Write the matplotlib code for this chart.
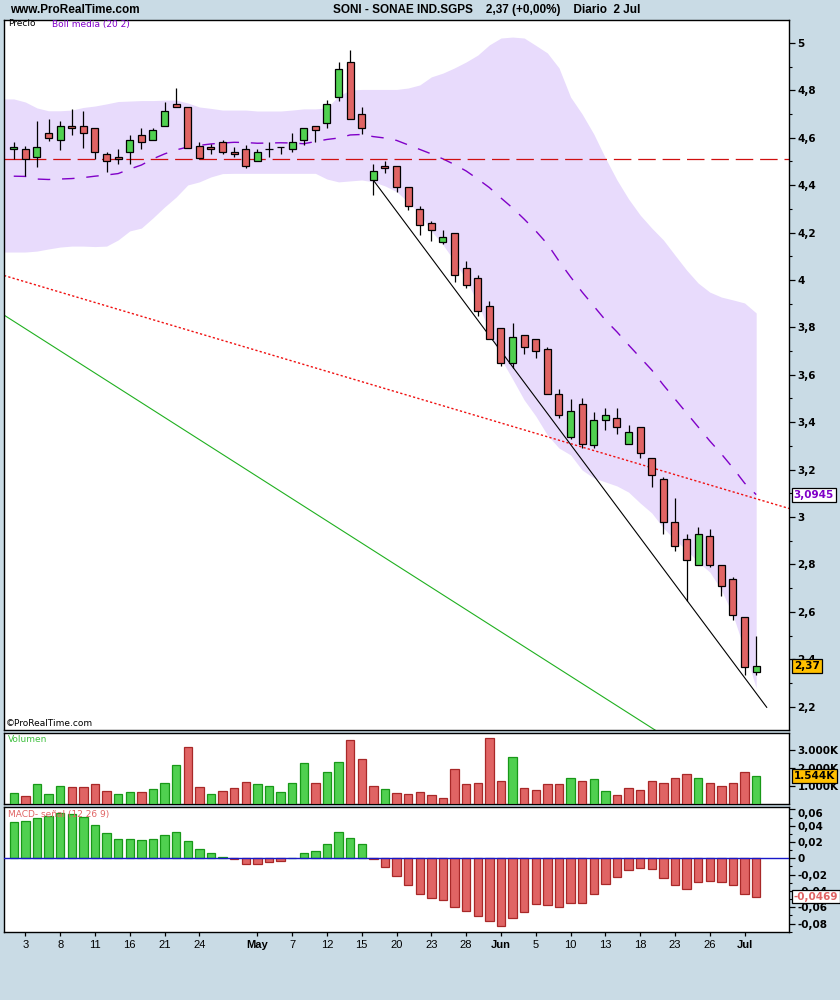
import numpy as np
import matplotlib
matplotlib.use('Agg')
import matplotlib.pyplot as plt

# SONI - SONAE IND.SGPS, daily, 2 Apr .. 2 Jul (65 sessions)
opens = [4.552, 4.551, 4.518, 4.619, 4.589, 4.648, 4.648, 4.640, 4.530, 4.518,
         4.539, 4.611, 4.589, 4.648, 4.741, 4.729, 4.567, 4.560, 4.581, 4.540,
         4.551, 4.501, 4.551, 4.560, 4.551, 4.589, 4.648, 4.661, 4.771, 4.919,
         4.699, 4.421, 4.480, 4.480, 4.391, 4.298, 4.239, 4.159, 4.197, 4.049,
         4.007, 3.889, 3.796, 3.649, 3.767, 3.750, 3.708, 3.518, 3.336, 3.475,
         3.305, 3.408, 3.416, 3.307, 3.378, 3.247, 3.159, 2.978, 2.906, 2.796,
         2.918, 2.796, 2.737, 2.577, 2.345]
highs = [4.581, 4.567, 4.670, 4.678, 4.670, 4.720, 4.712, 4.640, 4.540, 4.551,
         4.611, 4.640, 4.640, 4.750, 4.809, 4.729, 4.581, 4.573, 4.589, 4.560,
         4.568, 4.551, 4.581, 4.560, 4.619, 4.640, 4.648, 4.759, 4.919, 4.969,
         4.729, 4.488, 4.501, 4.480, 4.391, 4.311, 4.248, 4.210, 4.197, 4.079,
         4.020, 3.910, 3.796, 3.817, 3.767, 3.750, 3.716, 3.539, 3.496, 3.500,
         3.441, 3.459, 3.459, 3.387, 3.378, 3.247, 3.167, 3.079, 2.927, 2.957,
         2.948, 2.796, 2.746, 2.577, 2.497]
lows = [4.509, 4.438, 4.478, 4.588, 4.550, 4.611, 4.558, 4.509, 4.457, 4.488,
        4.490, 4.551, 4.589, 4.648, 4.729, 4.558, 4.509, 4.530, 4.530, 4.518,
        4.471, 4.501, 4.518, 4.530, 4.539, 4.568, 4.581, 4.640, 4.757, 4.678,
        4.615, 4.357, 4.450, 4.370, 4.297, 4.189, 4.166, 4.151, 3.990, 3.965,
        3.847, 3.750, 3.636, 3.627, 3.687, 3.670, 3.518, 3.416, 3.328, 3.290,
        3.290, 3.366, 3.349, 3.307, 3.247, 3.125, 2.927, 2.855, 2.644, 2.796,
        2.788, 2.665, 2.564, 2.332, 2.332]
closes = [4.560, 4.509, 4.560, 4.598, 4.648, 4.640, 4.619, 4.539, 4.501, 4.510,
          4.589, 4.581, 4.632, 4.712, 4.729, 4.558, 4.515, 4.551, 4.539, 4.530,
          4.480, 4.539, 4.551, 4.560, 4.581, 4.640, 4.632, 4.741, 4.889, 4.678,
          4.640, 4.459, 4.471, 4.391, 4.311, 4.231, 4.210, 4.180, 4.020, 3.978,
          3.868, 3.750, 3.649, 3.758, 3.716, 3.700, 3.518, 3.429, 3.446, 3.307,
          3.408, 3.429, 3.378, 3.357, 3.268, 3.176, 2.978, 2.876, 2.817, 2.927,
          2.796, 2.708, 2.585, 2.366, 2.370]
prev_close = 4.54

volume_k = [592, 425, 1090, 536, 980, 925, 925, 1090, 703, 536,
            648, 648, 814, 1147, 2146, 3200, 925, 536, 703, 870,
            1200, 1090, 980, 648, 1147, 2257, 1147, 1757, 2312, 3589,
            2534, 980, 814, 592, 536, 648, 481, 314, 1924, 1090,
            1147, 3700, 1258, 2645, 870, 758, 1090, 1090, 1424, 1258,
            1369, 703, 481, 870, 758, 1258, 1147, 1424, 1646, 1424,
            1147, 980, 1147, 1757, 1544]

macd_hist = [0.0441, 0.0453, 0.0490, 0.0514, 0.0551, 0.0539, 0.0502, 0.0404, 0.0306, 0.0233,
             0.0233, 0.0220, 0.0233, 0.0282, 0.0318, 0.0208, 0.0110, 0.0061, 0.0012, -0.0012,
             -0.0065, -0.0065, -0.0041, -0.0029, 0.0003, 0.0061, 0.0086, 0.0171, 0.0318, 0.0245,
             0.0171, -0.0012, -0.0110, -0.0220, -0.0330, -0.0440, -0.0490, -0.0514, -0.0600, -0.0649,
             -0.0710, -0.0771, -0.0832, -0.0734, -0.0661, -0.0563, -0.0575, -0.0600, -0.0551, -0.0551,
             -0.0440, -0.0318, -0.0233, -0.0147, -0.0122, -0.0135, -0.0245, -0.0330, -0.0380, -0.0294,
             -0.0282, -0.0294, -0.0330, -0.0440, -0.0469]

boll_upper = [4.764, 4.751, 4.726, 4.714, 4.714, 4.717, 4.728, 4.734, 4.743, 4.753,
              4.755, 4.757, 4.757, 4.759, 4.759, 4.747, 4.730, 4.724, 4.717, 4.717,
              4.717, 4.713, 4.713, 4.713, 4.717, 4.722, 4.722, 4.726, 4.776, 4.802,
              4.804, 4.804, 4.804, 4.804, 4.810, 4.823, 4.857, 4.873, 4.895, 4.920,
              4.949, 4.992, 5.021, 5.025, 5.021, 4.990, 4.958, 4.895, 4.772, 4.700,
              4.616, 4.515, 4.422, 4.342, 4.274, 4.219, 4.169, 4.105, 4.042, 3.987,
              3.949, 3.928, 3.916, 3.903, 3.861]
boll_mid = [4.438, 4.437, 4.426, 4.424, 4.426, 4.428, 4.432, 4.438, 4.443, 4.449,
            4.468, 4.485, 4.511, 4.532, 4.549, 4.561, 4.568, 4.574, 4.578, 4.581,
            4.580, 4.577, 4.578, 4.579, 4.578, 4.575, 4.584, 4.593, 4.599, 4.612,
            4.614, 4.605, 4.599, 4.589, 4.570, 4.551, 4.532, 4.511, 4.487, 4.460,
            4.426, 4.390, 4.346, 4.304, 4.257, 4.207, 4.152, 4.080, 4.013, 3.949,
            3.890, 3.831, 3.781, 3.726, 3.673, 3.620, 3.557, 3.498, 3.439, 3.380,
            3.321, 3.266, 3.207, 3.143, 3.0945]
boll_lower = [4.118, 4.118, 4.122, 4.131, 4.139, 4.143, 4.143, 4.141, 4.143, 4.169,
              4.207, 4.219, 4.262, 4.308, 4.350, 4.401, 4.414, 4.435, 4.449, 4.450,
              4.450, 4.450, 4.450, 4.450, 4.450, 4.450, 4.450, 4.426, 4.414, 4.418,
              4.422, 4.414, 4.397, 4.373, 4.329, 4.278, 4.207, 4.148, 4.080, 4.000,
              3.903, 3.785, 3.667, 3.582, 3.494, 3.426, 3.346, 3.291, 3.262, 3.198,
              3.165, 3.148, 3.131, 3.105, 3.059, 3.017, 2.954, 2.903, 2.861, 2.810,
              2.768, 2.692, 2.586, 2.439, 2.278]

level_line = 4.51
support_x, support_y = [31, 64.91], [4.421, 2.197]
resist_x, resist_y = [-0.84, 66.83], [4.019, 3.036]
green_x, green_y = [-0.84, 60], [3.852, 1.954]

tick_pos = [1, 4, 7, 10, 13, 16, 21, 24, 27, 30, 33, 36, 39, 42, 45, 48, 51, 54, 57, 60, 63]
tick_lab = ['3', '8', '11', '16', '21', '24', 'May', '7', '12', '15', '20', '23', '28',
            'Jun', '5', '10', '13', '18', '23', '26', 'Jul']
months = ['May', 'Jun', 'Jul']

price_ticks = [2.2, 2.4, 2.6, 2.8, 3.0, 3.2, 3.4, 3.6, 3.8, 4.0, 4.2, 4.4, 4.6, 4.8, 5.0]
vol_ticks = [1000, 2000, 3000]
macd_ticks = [-0.08, -0.06, -0.04, -0.02, 0.0, 0.02, 0.04]
macd_top_tick = 0.06

# colours
BG = '#c9dbe5'
GREEN = '#50d050'
RED = '#e06464'
GREEN_EDGE = '#189818'
RED_EDGE = '#a82828'
BAND = '#e8dbfc'
PURPLE = '#8000c8'

W, H = 840, 1000
fig = plt.figure(figsize=(W / 100, H / 100), dpi=100, facecolor=BG)
sans = ['Liberation Sans', 'DejaVu Sans']


def rect(x0, y0, x1, y1):
    return [x0 / W, 1 - y1 / H, (x1 - x0) / W, (y1 - y0) / H]


def ftext(x, y, s, **kw):
    fig.text(x / W, 1 - y / H, s, **kw)


ax = fig.add_axes(rect(4, 20, 789, 730))
ax_v = fig.add_axes(rect(4, 733, 789, 804))
ax_m = fig.add_axes(rect(4, 807, 789, 932))

x_left, x_right = -0.84, 66.83
idx = np.arange(len(closes))
o, h, l, c = map(np.array, (opens, highs, lows, closes))

for a in (ax, ax_v, ax_m):
    a.set_xlim(x_left, x_right)
    a.set_facecolor('white')
    for s in a.spines.values():
        s.set_linewidth(1.0)
        s.set_color('black')
    a.tick_params(axis='x', bottom=False, labelbottom=False)
    a.yaxis.tick_right()

# ---- price panel
ax.set_ylim(2.1013, 5.097)
bx = np.r_[x_left, idx]
ax.fill_between(bx, np.r_[boll_lower[0], boll_lower], np.r_[boll_upper[0], boll_upper],
                color=BAND, lw=0, zorder=1)
ax.plot(idx, boll_mid, color=PURPLE, lw=1.0, dashes=(9, 8.5), zorder=2)
ax.axhline(level_line, color='#d01010', lw=0.9, dashes=(14, 5.5), zorder=2)
ax.plot(resist_x, resist_y, color='#f01010', lw=1.0, dashes=(1.6, 1.6), zorder=2)
ax.plot(green_x, green_y, color='#20b020', lw=0.8, zorder=2)
ax.plot(support_x, support_y, color='black', lw=0.8, zorder=2)

ax.vlines(idx, l, h, color='black', lw=0.9, zorder=3)
up = c > o
dn = c < o
body_col = np.where(up, GREEN, RED)
solid = up | dn
ax.bar(idx[solid], np.abs(c - o)[solid], bottom=np.minimum(o, c)[solid], width=0.6,
       color=body_col[solid], edgecolor='black', linewidth=0.9, zorder=4)
doji = ~solid
ax.hlines(c[doji], idx[doji] - 0.33, idx[doji] + 0.33, color='black', lw=0.9, zorder=4)

ax.set_yticks(price_ticks)
ax.set_yticklabels([f'{t:g}'.replace('.', ',') for t in price_ticks])
ax.set_yticks(np.arange(2.3, 5.0, 0.2), minor=True)
ax.tick_params(axis='y', which='major', direction='out', length=4, width=0.9,
               pad=2, labelsize=7.5)
ax.tick_params(axis='y', which='minor', direction='out', length=2.5, width=0.8)

ax.text(1.006, boll_mid[-1], f'{boll_mid[-1]:.4f}'.replace('.', ','),
        transform=ax.get_yaxis_transform(), color=PURPLE, fontsize=7.5,
        fontweight='bold', va='center', ha='left', zorder=10,
        bbox=dict(facecolor='white', edgecolor='black', lw=0.9, pad=1.5))
ax.text(1.006, closes[-1], f'{closes[-1]:.2f}'.replace('.', ','),
        transform=ax.get_yaxis_transform(), color='black', fontsize=7.5,
        fontweight='bold', va='center', ha='left', zorder=10,
        bbox=dict(facecolor='#ffc000', edgecolor='black', lw=0.9, pad=1.5))

# ---- volume panel
prev = np.r_[prev_close, c[:-1]]
vol_up = c >= prev
ax_v.set_ylim(-28, 3972)
ax_v.bar(idx, volume_k, width=0.72, color=np.where(vol_up, GREEN, RED),
         edgecolor=np.where(vol_up, GREEN_EDGE, RED_EDGE), linewidth=0.9, zorder=3)
ax_v.set_yticks(vol_ticks)
ax_v.set_yticklabels([f'{v / 1000:.3f}K' for v in vol_ticks])
ax_v.tick_params(axis='y', direction='out', length=4, width=0.9, pad=2, labelsize=7.5)
ax_v.text(1.006, volume_k[-1], f'{volume_k[-1] / 1000:.3f}K',
          transform=ax_v.get_yaxis_transform(), color='black', fontsize=7.5,
          fontweight='bold', va='center', ha='left', zorder=10,
          bbox=dict(facecolor='#ffc000', edgecolor='black', lw=0.9, pad=1.2))

# ---- MACD panel
m = np.array(macd_hist)
m_up = m >= 0
ax_m.set_ylim(-0.0904, 0.0629)
ax_m.bar(idx, m, width=0.72, color=np.where(m_up, GREEN, RED),
         edgecolor=np.where(m_up, GREEN_EDGE, RED_EDGE), linewidth=0.9, zorder=3)
ax_m.axhline(0, color='#1818c8', lw=1.0, zorder=4)
ax_m.set_yticks(macd_ticks + [macd_top_tick])
ax_m.set_yticklabels([f'{t:g}'.replace('.', ',') for t in macd_ticks] + [''])
ax_m.set_yticks(np.arange(-0.09, 0.061, 0.01), minor=True)
ax_m.tick_params(axis='y', which='major', direction='out', length=4, width=0.9,
                 pad=2, labelsize=7.5)
ax_m.tick_params(axis='y', which='minor', direction='out', length=2.5, width=0.8)
# top label sits a little lower so it stays inside the panel
ax_m.annotate(f'{macd_top_tick:g}'.replace('.', ','), xy=(1, macd_top_tick),
              xycoords=ax_m.get_yaxis_transform(), xytext=(6, -3),
              textcoords='offset points', fontsize=7.5, fontweight='bold',
              va='center', ha='left')
ax_m.text(1.006, macd_hist[-1], f'{macd_hist[-1]:.4f}'.replace('.', ','),
          transform=ax_m.get_yaxis_transform(), color=RED, fontsize=7.5,
          fontweight='bold', va='center', ha='left', zorder=10,
          bbox=dict(facecolor='white', edgecolor='black', lw=0.9, pad=1.2))

ax_m.set_xticks(tick_pos)
ax_m.set_xticklabels(tick_lab)
ax_m.tick_params(axis='x', bottom=True, labelbottom=True, direction='out', length=3,
                 width=0.9, pad=3, labelsize=8)
for t in ax_m.get_xticklabels():
    t.set_family(sans)
    if t.get_text() in months:
        t.set_fontweight('bold')

for a in (ax, ax_v, ax_m):
    for t in a.get_yticklabels():
        t.set_fontweight('bold')

# ---- texts
ftext(10, 10, 'www.ProRealTime.com', fontsize=8.5, fontweight='bold', family=sans,
      va='center', ha='left')
ftext(487, 10, 'SONI - SONAE IND.SGPS    2,37 (+0,00%)    Diario  2 Jul', fontsize=8.5,
      fontweight='bold', family=sans, va='center', ha='center')
ftext(8, 24, 'Precio', fontsize=6.5, color='black', va='center')
ftext(52, 24, 'Boll media (20 2)', fontsize=6.5, color=PURPLE, va='center')
ftext(6, 723, '\u00a9ProRealTime.com', fontsize=6.5, color='black', va='center')
ftext(8, 740, 'Volumen', fontsize=6.5, color='#40c040', va='center')
ftext(8, 814, 'MACD- se\u00f1al (12 26 9)', fontsize=6.5, color=RED, va='center')

fig.savefig('out.png', dpi=100, facecolor=BG)
